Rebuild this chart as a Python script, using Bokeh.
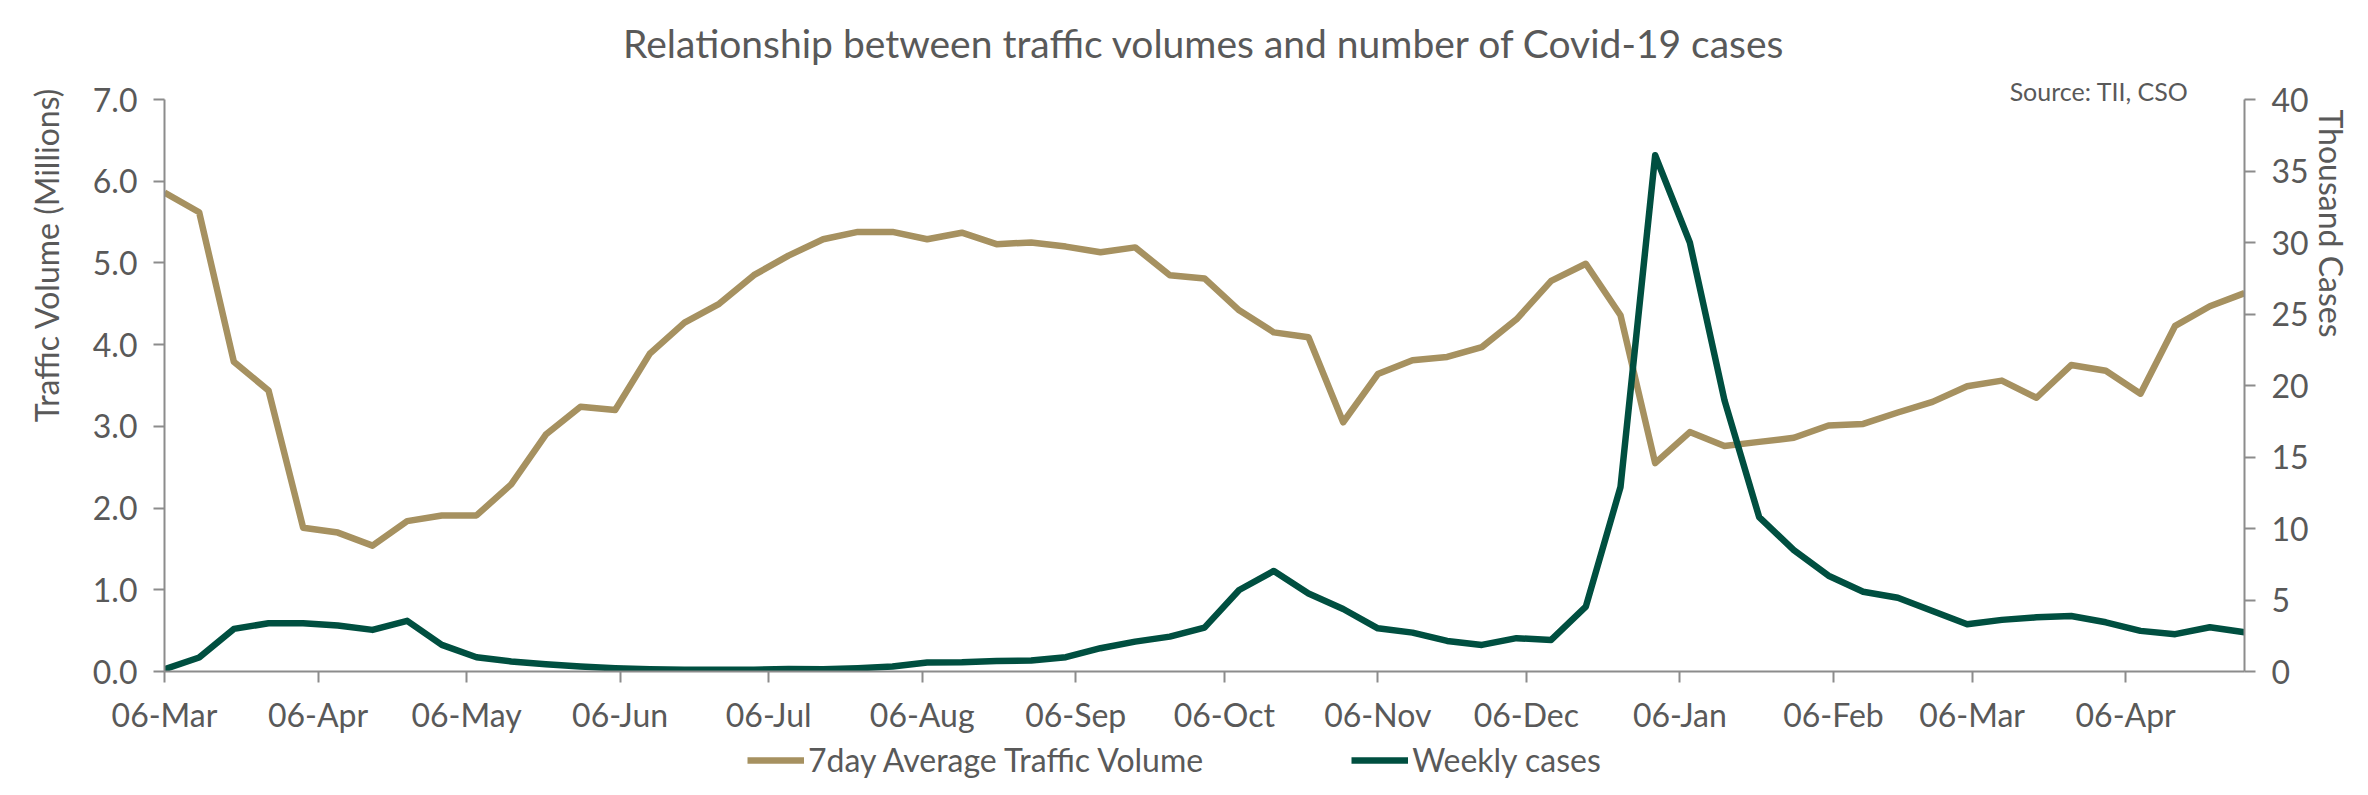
import math
from datetime import datetime, timedelta
from bokeh.plotting import figure
from bokeh.layouts import column
from bokeh.models import (Range1d, LinearAxis, FixedTicker, Legend, LegendItem, Title,
                          DatetimeTickFormatter, NumeralTickFormatter)
from bokeh.embed import file_html
from bokeh.resources import INLINE

# ---------------- data ----------------
start = datetime(2020, 3, 6)
weeks = [start + timedelta(days=7 * i) for i in range(61)]

traffic_millions = [5.86, 5.62, 3.79, 3.44, 1.76, 1.70, 1.54, 1.84, 1.91, 1.91, 2.29, 2.90, 3.24,
                    3.20, 3.89, 4.27, 4.50, 4.85, 5.09, 5.29, 5.38, 5.38, 5.29, 5.37, 5.23, 5.25,
                    5.20, 5.13, 5.19, 4.85,
                    4.81, 4.42, 4.15, 4.09, 3.05, 3.64, 3.81, 3.85, 3.97, 4.31, 4.78, 4.99, 4.36,
                    2.55, 2.93, 2.76, 2.81,
                    2.86, 3.01, 3.03, 3.17, 3.30, 3.49, 3.56, 3.35, 3.75, 3.68, 3.40, 4.23, 4.47, 4.63]

weekly_cases_thousands = [0.16, 0.98, 2.98, 3.37, 3.37, 3.21, 2.91, 3.54, 1.86, 1.00, 0.70, 0.51, 0.35,
                          0.23, 0.16, 0.13, 0.12, 0.12, 0.18, 0.15, 0.23, 0.35, 0.63, 0.65, 0.74, 0.77,
                          1.00, 1.63, 2.09, 2.44,
                          3.07, 5.70, 7.03, 5.46, 4.37, 3.02, 2.72, 2.14, 1.86, 2.33, 2.21, 4.54, 12.9,
                          36.1, 30.0, 18.96, 10.8,
                          8.49, 6.70, 5.58, 5.16, 4.23, 3.30, 3.61, 3.79, 3.88, 3.44, 2.84, 2.61, 3.09, 2.75]

tick_dates = [datetime(2020, m, 6) for m in range(3, 13)] + [datetime(2021, m, 6) for m in range(1, 5)]
left_ticks = [0, 1, 2, 3, 4, 5, 6, 7]
right_ticks = [0, 5, 10, 15, 20, 25, 30, 35, 40]

title_text = "Relationship between traffic volumes and number of Covid-19 cases"
source_text = "Source: TII, CSO"
left_label = "Traffic Volume (Millions)"
right_label = "Thousand Cases"
series_names = ["7day Average Traffic Volume", "Weekly cases"]

# ---------------- style ----------------
TAN = "#A69160"
GREEN = "#004F40"
GREY = "#595959"
AXIS = "#8C8C8C"
FONT = "Lato"
FS = "32px"

W = 2352
H_PLOT, H_LEG = 736, 43
ML, MR, MT, MB = 160, 102, 99, 64

p = figure(width=W, height=H_PLOT, output_backend="svg", toolbar_location=None,
           x_axis_type="datetime",
           x_range=Range1d(weeks[0], weeks[-1]), y_range=Range1d(0, 7),
           min_border_left=ML, min_border_right=MR, min_border_top=MT, min_border_bottom=MB)
p.outline_line_color = None
p.grid.visible = False
p.background_fill_color = "white"
p.border_fill_color = "white"

p.extra_y_ranges = {"cases": Range1d(0, 40)}
raxis = LinearAxis(y_range_name="cases")
p.add_layout(raxis, "right")

def style_axis(ax):
    ax.axis_line_color = AXIS
    ax.axis_line_width = 2
    ax.major_tick_line_color = AXIS
    ax.major_tick_line_width = 2
    ax.major_tick_in = 0
    ax.major_tick_out = 11
    ax.minor_tick_line_color = None
    ax.major_label_text_font = FONT
    ax.major_label_text_font_size = FS
    ax.major_label_text_color = GREY

for ax in [p.xaxis[0], p.yaxis[0], raxis]:
    style_axis(ax)

xax = p.xaxis[0]
xax.ticker = FixedTicker(ticks=[d.timestamp() * 1000 for d in tick_dates])
fmt = "%d-%b"
xax.formatter = DatetimeTickFormatter(milliseconds=fmt, seconds=fmt, minsec=fmt, minutes=fmt,
                                      hourmin=fmt, hours=fmt, days=fmt, months=fmt, years=fmt)
xax.major_label_standoff = 12

p.yaxis[0].ticker = FixedTicker(ticks=left_ticks)
p.yaxis[0].formatter = NumeralTickFormatter(format="0.0")
p.yaxis[0].major_label_standoff = 16
raxis.ticker = FixedTicker(ticks=right_ticks)
raxis.major_label_standoff = 16

r1 = p.line(weeks, traffic_millions, line_color=TAN, line_width=6.5, line_join="round")
r2 = p.line(weeks, weekly_cases_thousands, line_color=GREEN, line_width=6.5, line_join="round",
            y_range_name="cases")

def make_title(text, size, align, offset, standoff):
    return Title(text=text, align=align, offset=offset, standoff=standoff, text_font=FONT,
                 text_font_size=size, text_font_style="normal", text_color=GREY)

p.add_layout(make_title(source_text, "25px", "right", 56, -12), "above")
p.add_layout(make_title(title_text, "39px", "center", -15, 27), "above")
p.add_layout(make_title(left_label, FS, "right", -12, 48), "left")
p.add_layout(make_title(right_label, FS, "left", 10, 0), "right")

# ---------------- legend strip (own small figure, so nothing is clipped) ----------------
lf = figure(width=W, height=H_LEG, output_backend="svg", toolbar_location=None,
            x_axis_location=None, y_axis_location=None,
            x_range=Range1d(0, 1), y_range=Range1d(0, 1),
            min_border=0, min_border_left=0, min_border_right=0, min_border_top=0, min_border_bottom=0)
lf.outline_line_color = None
lf.grid.visible = False
# same series drawn far outside this strip's ranges: only their legend swatches show
lr1 = lf.line(weeks, traffic_millions, line_color=TAN, line_width=6.5)
lr2 = lf.line(weeks, weekly_cases_thousands, line_color=GREEN, line_width=6.5)
legend = Legend(items=[LegendItem(label=series_names[0], renderers=[lr1]),
                       LegendItem(label=series_names[1], renderers=[lr2])],
                orientation="horizontal", location=(583, 0),
                glyph_width=57, glyph_height=36, label_standoff=4, spacing=148,
                padding=0, margin=0, border_line_alpha=0, background_fill_alpha=0,
                label_text_font=FONT, label_text_font_size=FS, label_text_color=GREY)
lf.add_layout(legend)

layout = column(p, lf, spacing=0)
open("out.html", "w").write(file_html(layout, INLINE))
